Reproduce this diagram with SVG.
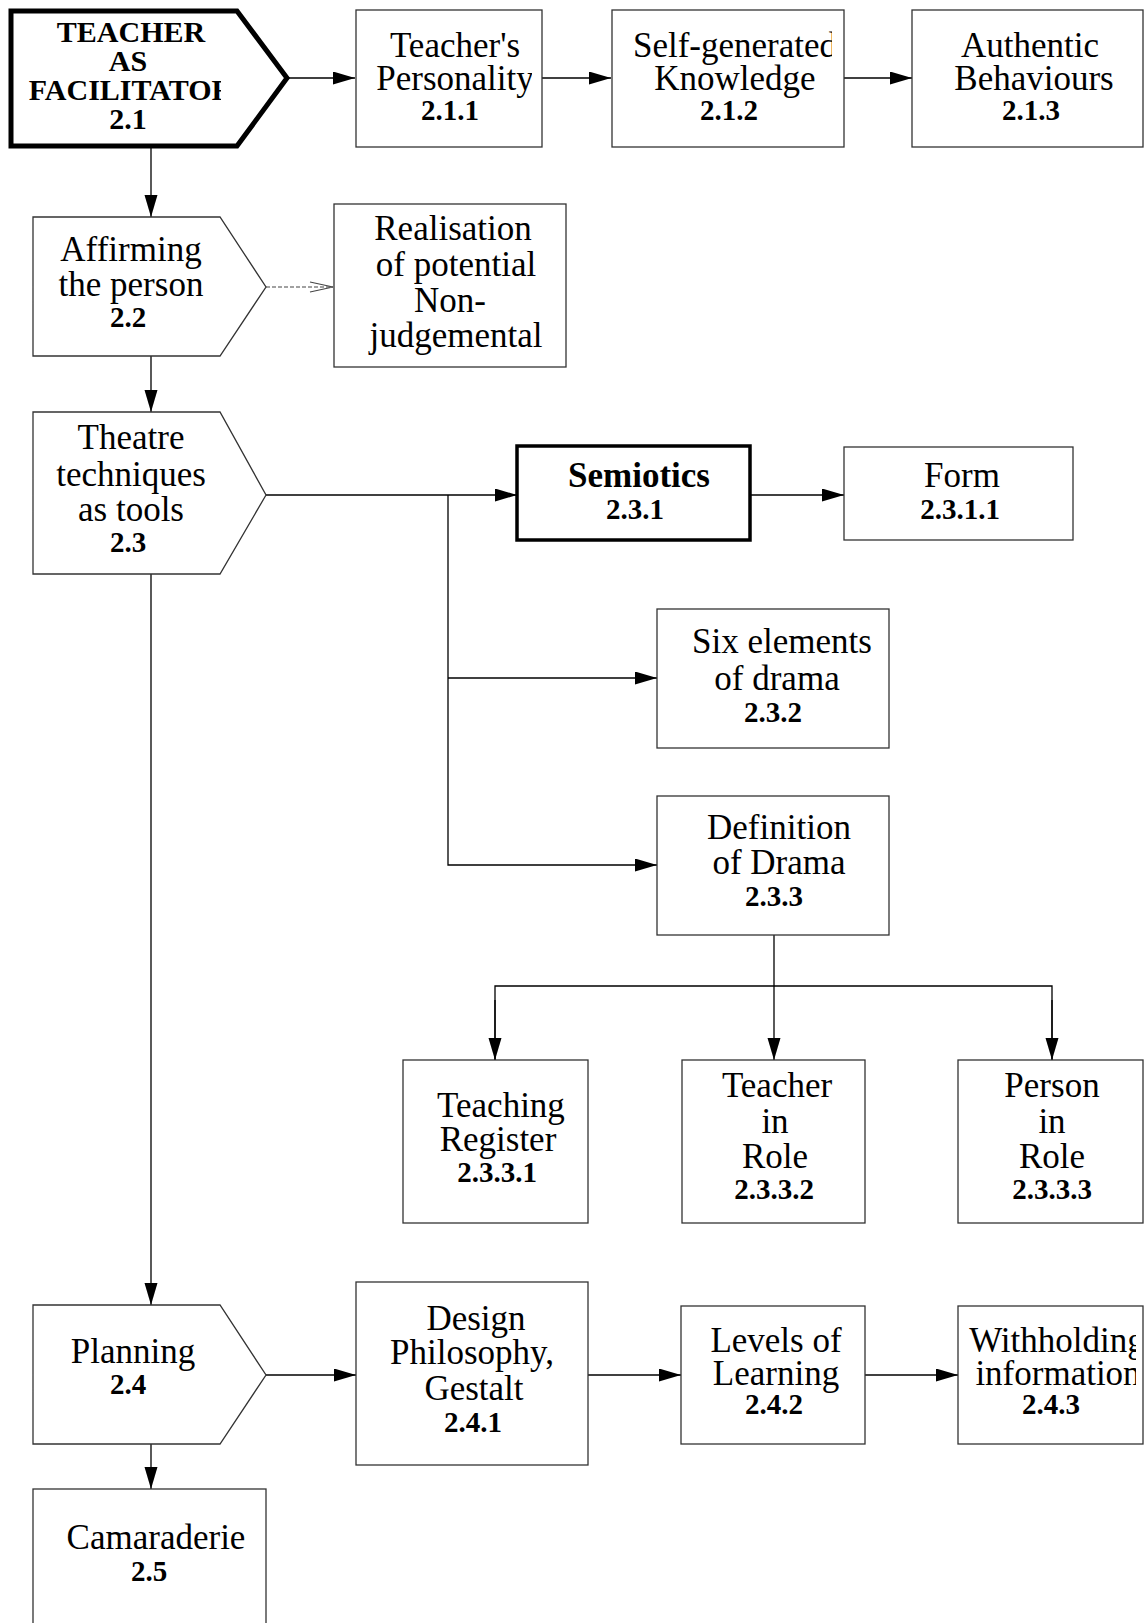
<svg xmlns="http://www.w3.org/2000/svg" width="1145" height="1623" viewBox="0 0 1145 1623">
<style>
.box{fill:#fff;stroke:#333;stroke-width:1.3}
.thick{fill:#fff;stroke:#000;stroke-width:5}
.semi{fill:#fff;stroke:#000;stroke-width:3.5}
.t{font-family:"Liberation Serif","Times New Roman",serif;font-size:35px;fill:#000;text-anchor:middle}
.n{font-family:"Liberation Serif","Times New Roman",serif;font-size:29px;font-weight:bold;fill:#000;text-anchor:middle}
.b{font-family:"Liberation Serif","Times New Roman",serif;font-size:30px;font-weight:bold;fill:#000;text-anchor:middle}
.bs{font-family:"Liberation Serif","Times New Roman",serif;font-size:35px;font-weight:bold;fill:#000;text-anchor:middle}
.c{fill:none;stroke:#000;stroke-width:1.3}
.d{fill:none;stroke:#444;stroke-width:1.1;stroke-dasharray:4 2}
</style>
<defs>
<marker id="ah" markerUnits="userSpaceOnUse" markerWidth="23" markerHeight="14" refX="22" refY="6.5" orient="auto">
<path d="M0,0 L22,6.5 L0,13 Z" fill="#000"/>
</marker>
<clipPath id="cTeach"><rect x="0" y="0" width="221" height="160"/></clipPath>
<clipPath id="cPers"><rect x="355" y="0" width="177" height="160"/></clipPath>
<clipPath id="cSelf"><rect x="611" y="0" width="221" height="160"/></clipPath>
<clipPath id="cWith"><rect x="958" y="1300" width="178" height="150"/></clipPath>
</defs>

<g id="connectors">
<line class="c" x1="287" y1="78" x2="355" y2="78" marker-end="url(#ah)"/>
<line class="c" x1="542" y1="78" x2="611" y2="78" marker-end="url(#ah)"/>
<line class="c" x1="844" y1="78" x2="912" y2="78" marker-end="url(#ah)"/>
<line class="c" x1="151" y1="146" x2="151" y2="217" marker-end="url(#ah)"/>
<line class="d" x1="266" y1="287" x2="333" y2="287"/>
<polyline fill="none" stroke="#444" stroke-width="1.1" points="310,282 333,287 310,292"/>
<line class="c" x1="151" y1="356" x2="151" y2="412" marker-end="url(#ah)"/>
<line class="c" x1="266" y1="495" x2="517" y2="495" marker-end="url(#ah)"/>
<polyline class="c" points="448,495 448,865 657,865" marker-end="url(#ah)"/>
<line class="c" x1="448" y1="678" x2="657" y2="678" marker-end="url(#ah)"/>
<line class="c" x1="751" y1="495" x2="844" y2="495" marker-end="url(#ah)"/>
<line class="c" x1="774" y1="935" x2="774" y2="1060" marker-end="url(#ah)"/>
<polyline class="c" points="495,1060 495,986 1052,986 1052,1060"/>
<line class="c" x1="495" y1="1000" x2="495" y2="1060" marker-end="url(#ah)"/>
<line class="c" x1="1052" y1="1000" x2="1052" y2="1060" marker-end="url(#ah)"/>
<line class="c" x1="151" y1="574" x2="151" y2="1305" marker-end="url(#ah)"/>
<line class="c" x1="266" y1="1375" x2="356" y2="1375" marker-end="url(#ah)"/>
<line class="c" x1="588" y1="1375" x2="681" y2="1375" marker-end="url(#ah)"/>
<line class="c" x1="865" y1="1375" x2="958" y2="1375" marker-end="url(#ah)"/>
<line class="c" x1="151" y1="1444" x2="151" y2="1489" marker-end="url(#ah)"/>
</g>

<g id="n2_1">
<path class="thick" d="M11,11 L237,11 L287,78 L237,146 L11,146 Z"/>
<g clip-path="url(#cTeach)">
<text class="b" x="131" y="42">TEACHER</text>
<text class="b" x="128" y="71">AS</text>
<text class="b" x="131" y="100">FACILITATOR</text>
<text class="b" x="128" y="129">2.1</text>
</g>
</g>

<g id="n2_1_1">
<rect class="box" x="356" y="10" width="186" height="137"/>
<g clip-path="url(#cPers)">
<text class="t" x="455" y="57">Teacher's</text>
<text class="t" x="455" y="90">Personality</text>
</g>
<text class="n" x="450" y="120">2.1.1</text>
</g>

<g id="n2_1_2">
<rect class="box" x="612" y="10" width="232" height="137"/>
<g clip-path="url(#cSelf)">
<text class="t" x="735" y="57">Self-generated</text>
</g>
<text class="t" x="735" y="90">Knowledge</text>
<text class="n" x="729" y="120">2.1.2</text>
</g>

<g id="n2_1_3">
<rect class="box" x="912" y="10" width="231" height="137"/>
<text class="t" x="1030" y="57">Authentic</text>
<text class="t" x="1034" y="90">Behaviours</text>
<text class="n" x="1031" y="120">2.1.3</text>
</g>

<g id="n2_2">
<path class="box" d="M33,217 L220,217 L266,287 L220,356 L33,356 Z"/>
<text class="t" x="131" y="261">Affirming</text>
<text class="t" x="131" y="296">the person</text>
<text class="n" x="128" y="327">2.2</text>
</g>

<g id="nReal">
<rect class="box" x="334" y="204" width="232" height="163"/>
<text class="t" x="453" y="240">Realisation</text>
<text class="t" x="456" y="276">of potential</text>
<text class="t" x="450" y="312">Non-</text>
<text class="t" x="456" y="347">judgemental</text>
</g>

<g id="n2_3">
<path class="box" d="M33,412 L220,412 L266,495 L220,574 L33,574 Z"/>
<text class="t" x="131" y="449">Theatre</text>
<text class="t" x="131" y="486">techniques</text>
<text class="t" x="131" y="521">as tools</text>
<text class="n" x="128" y="552">2.3</text>
</g>

<g id="n2_3_1">
<rect class="semi" x="517" y="446" width="233" height="94"/>
<text class="bs" x="639" y="487">Semiotics</text>
<text class="n" x="635" y="519">2.3.1</text>
</g>

<g id="n2_3_1_1">
<rect class="box" x="844" y="447" width="229" height="93"/>
<text class="t" x="962" y="487">Form</text>
<text class="n" x="960" y="519">2.3.1.1</text>
</g>

<g id="n2_3_2">
<rect class="box" x="657" y="609" width="232" height="139"/>
<text class="t" x="782" y="653">Six elements</text>
<text class="t" x="777" y="690">of drama</text>
<text class="n" x="773" y="722">2.3.2</text>
</g>

<g id="n2_3_3">
<rect class="box" x="657" y="796" width="232" height="139"/>
<text class="t" x="779" y="839">Definition</text>
<text class="t" x="779" y="874">of Drama</text>
<text class="n" x="774" y="906">2.3.3</text>
</g>

<g id="n2_3_3_1">
<rect class="box" x="403" y="1060" width="185" height="163"/>
<text class="t" x="501" y="1117">Teaching</text>
<text class="t" x="498" y="1151">Register</text>
<text class="n" x="497" y="1182">2.3.3.1</text>
</g>

<g id="n2_3_3_2">
<rect class="box" x="682" y="1060" width="183" height="163"/>
<text class="t" x="777" y="1097">Teacher</text>
<text class="t" x="775" y="1133">in</text>
<text class="t" x="775" y="1168">Role</text>
<text class="n" x="774" y="1199">2.3.3.2</text>
</g>

<g id="n2_3_3_3">
<rect class="box" x="958" y="1060" width="185" height="163"/>
<text class="t" x="1052" y="1097">Person</text>
<text class="t" x="1052" y="1133">in</text>
<text class="t" x="1052" y="1168">Role</text>
<text class="n" x="1052" y="1199">2.3.3.3</text>
</g>

<g id="n2_4">
<path class="box" d="M33,1305 L220,1305 L266,1375 L220,1444 L33,1444 Z"/>
<text class="t" x="133" y="1363">Planning</text>
<text class="n" x="128" y="1394">2.4</text>
</g>

<g id="n2_4_1">
<rect class="box" x="356" y="1282" width="232" height="183"/>
<text class="t" x="476" y="1330">Design</text>
<text class="t" x="472" y="1364">Philosophy,</text>
<text class="t" x="474" y="1400">Gestalt</text>
<text class="n" x="473" y="1432">2.4.1</text>
</g>

<g id="n2_4_2">
<rect class="box" x="681" y="1306" width="184" height="138"/>
<text class="t" x="776" y="1352">Levels of</text>
<text class="t" x="776" y="1385">Learning</text>
<text class="n" x="774" y="1414">2.4.2</text>
</g>

<g id="n2_4_3">
<rect class="box" x="958" y="1306" width="185" height="138"/>
<g clip-path="url(#cWith)">
<text class="t" x="1057" y="1352">Withholding</text>
<text class="t" x="1058" y="1385">information</text>
</g>
<text class="n" x="1051" y="1414">2.4.3</text>
</g>

<g id="n2_5">
<rect class="box" x="33" y="1489" width="233" height="150"/>
<text class="t" x="156" y="1549">Camaraderie</text>
<text class="n" x="149" y="1581">2.5</text>
</g>
</svg>
